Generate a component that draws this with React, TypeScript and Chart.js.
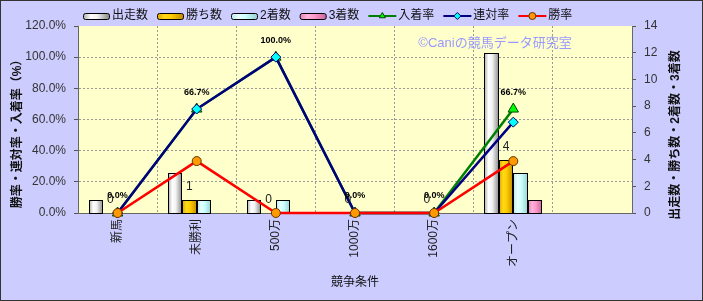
import React, { useEffect, useRef } from 'react';
import { Chart, registerables } from 'chart.js';
import { drawPoint } from 'chart.js/helpers';

Chart.register(...registerables);

// ---- data ----
const categories = ['新馬', '未勝利', '500万', '1000万', '1600万', 'オープン', ''];
const starts = [1, 3, 1, 0, 0, 12, null];
const wins = [0, 1, 0, 0, 0, 4, null];
const seconds = [0, 1, 1, 0, 0, 3, null];
const thirds = [0, 0, 0, 0, 0, 1, null];
const placeRate = [0, 66.7, 100, 0, 0, 66.7, null];
const rentaiRate = [0, 66.7, 100, 0, 0, 58.3, null];
const winRate = [0, 33.3, 0, 0, 0, 33.3, null];

const seriesLabels = ['出走数', '勝ち数', '2着数', '3着数', '入着率', '連対率', '勝率'];
const leftAxisTitle = '勝率・連対率・入着率（%）';
const rightAxisTitle = '出走数・勝ち数・2着数・3着数';
const xAxisTitle = '競争条件';
const watermark = '©Caniの競馬データ研究室';

const FONT = '"Liberation Sans", "Noto Sans CJK JP", sans-serif';

const gradStarts = [[0, '#a8a8a8'], [0.3, '#ffffff'], [0.55, '#f2f2f2'], [1, '#8a8a8a']];
const gradWins = [[0, '#dca400'], [0.3, '#ffd a1a'.replace(' ', '')], [0.55, '#ffcc00'], [1, '#c08c00']];
const gradSeconds = [[0, '#b4e6e6'], [0.3, '#e8ffff'], [0.55, '#ccffff'], [1, '#98d0d0']];
const gradThirds = [[0, '#e080b4'], [0.3, '#ffb4da'], [0.55, '#ff99cc'], [1, '#c86a9c']];

function makeGrad(ctx: CanvasRenderingContext2D, x0: number, x1: number, stops: any[]) {
  const g = ctx.createLinearGradient(x0, 0, x1, 0);
  stops.forEach(([o, c]) => g.addColorStop(o, c));
  return g;
}

const decor = {
  id: 'decor',
  beforeDraw(chart: any) {
    const { ctx, chartArea: a, width, height } = chart;
    ctx.save();
    ctx.fillStyle = '#ccccff';
    ctx.fillRect(0, 0, width, height);
    ctx.fillStyle = '#ffffcc';
    ctx.fillRect(a.left, a.top, a.right - a.left, a.bottom - a.top);
    ctx.restore();
  },
  beforeDatasetsDraw(chart: any) {
    const { ctx } = chart;
    ctx.save();
    ctx.font = `13px ${FONT}`;
    ctx.fillStyle = '#9999ff';
    ctx.textAlign = 'center';
    ctx.textBaseline = 'middle';
    ctx.fillText(watermark, 495, 43);
    ctx.restore();
  },
  afterDatasetDraw(chart: any, args: any) {
    const ds = chart.data.datasets[args.index];
    if (ds.type !== 'bar') return;
    const { ctx } = chart;
    ctx.save();
    args.meta.data.forEach((el: any, i: number) => {
      const v = ds.data[i];
      if (!v) return;
      const { x, y, base, width } = el.getProps(['x', 'y', 'base', 'width'], true);
      const l = Math.round(x - width / 2);
      const r = Math.round(x + width / 2);
      const t = Math.round(y);
      const b = Math.round(base);
      ctx.fillStyle = makeGrad(ctx, l, r, ds.gradStops);
      ctx.fillRect(l, t, r - l, b - t);
      ctx.strokeStyle = '#000';
      ctx.lineWidth = 1;
      ctx.strokeRect(l + 0.5, t + 0.5, r - l - 1, b - t);
    });
    ctx.restore();
  },
  afterDatasetsDraw(chart: any) {
    const { ctx } = chart;
    ctx.save();
    ctx.textAlign = 'center';
    ctx.textBaseline = 'middle';
    // 勝ち数 labels
    const winMeta = chart.getDatasetMeta(1);
    ctx.font = `12px ${FONT}`;
    ctx.fillStyle = '#222';
    winMeta.data.forEach((el: any, i: number) => {
      const v = wins[i];
      if (v === null || v === undefined) return;
      const { x, y } = el.getProps(['x', 'y'], true);
      ctx.fillText(String(v), x, y - 13);
    });
    // 入着率 labels
    const placeMeta = chart.getDatasetMeta(4);
    ctx.font = `bold 9px ${FONT}`;
    ctx.fillStyle = '#000';
    placeMeta.data.forEach((el: any, i: number) => {
      const v = placeRate[i];
      if (v === null || v === undefined) return;
      const { x, y } = el.getProps(['x', 'y'], true);
      ctx.fillText(v.toFixed(1) + '%', x, y - 17);
    });
    ctx.restore();
  },
  afterDraw(chart: any) {
    const { ctx, chartArea: a, width, height } = chart;
    ctx.save();
    ctx.fillStyle = '#111';
    ctx.textAlign = 'center';
    ctx.textBaseline = 'middle';
    // axis titles
    ctx.font = `bold 12px ${FONT}`;
    ctx.save();
    ctx.translate(18, 131);
    ctx.rotate(-Math.PI / 2);
    ctx.fillText(leftAxisTitle, 0, 0);
    ctx.restore();
    ctx.save();
    ctx.translate(676, 135);
    ctx.rotate(-Math.PI / 2);
    ctx.fillText(rightAxisTitle, 0, 0);
    ctx.restore();
    ctx.font = `12px ${FONT}`;
    ctx.fillText(xAxisTitle, (a.left + a.right) / 2, 283);

    // legend
    let x = 83;
    const yc = 16;
    ctx.textAlign = 'left';
    chart.data.datasets.forEach((ds: any) => {
      if (ds.type === 'bar') {
        const w = 26, h = 6;
        ctx.fillStyle = makeGrad(ctx, x, x + w, ds.gradStops);
        ctx.beginPath();
        ctx.roundRect(x + 0.5, yc - h / 2 + 0.5, w, h, 2);
        ctx.fill();
        ctx.strokeStyle = '#000';
        ctx.lineWidth = 1;
        ctx.stroke();
        x += w + 3;
      } else {
        const w = 28;
        ctx.strokeStyle = ds.borderColor;
        ctx.lineWidth = 2;
        ctx.beginPath();
        ctx.moveTo(x, yc);
        ctx.lineTo(x + w, yc);
        ctx.stroke();
        ctx.fillStyle = ds.pointBackgroundColor;
        ctx.strokeStyle = ds.pointBorderColor;
        ctx.lineWidth = 1;
        drawPoint(ctx, { pointStyle: ds.pointStyle, radius: 3.5, rotation: 0, borderWidth: 1 } as any, x + w / 2, yc);
        x += w + 2;
      }
      ctx.fillStyle = '#111';
      ctx.font = `12px ${FONT}`;
      ctx.fillText(ds.label, x, yc);
      x += ctx.measureText(ds.label).width + 9;
    });

    // outer border
    ctx.strokeStyle = '#333';
    ctx.lineWidth = 1;
    ctx.strokeRect(0.5, 0.5, width - 1, height - 1);
    ctx.restore();
  },
};

export default function App() {
  const ref = useRef<HTMLCanvasElement | null>(null);
  useEffect(() => {
    if (!ref.current) return;
    const tickFont = { family: FONT, size: 12 };
    const chart = new Chart(ref.current, {
      type: 'bar',
      data: {
        labels: categories,
        datasets: [
          { type: 'bar', label: seriesLabels[0], data: starts, yAxisID: 'y1', backgroundColor: 'transparent', borderWidth: 0, order: 4, gradStops: gradStarts } as any,
          { type: 'bar', label: seriesLabels[1], data: wins, yAxisID: 'y1', backgroundColor: 'transparent', borderWidth: 0, order: 4, gradStops: gradWins } as any,
          { type: 'bar', label: seriesLabels[2], data: seconds, yAxisID: 'y1', backgroundColor: 'transparent', borderWidth: 0, order: 4, gradStops: gradSeconds } as any,
          { type: 'bar', label: seriesLabels[3], data: thirds, yAxisID: 'y1', backgroundColor: 'transparent', borderWidth: 0, order: 4, gradStops: gradThirds } as any,
          {
            type: 'line', label: seriesLabels[4], data: placeRate, yAxisID: 'y',
            borderColor: '#008000', borderWidth: 2.5, pointStyle: 'triangle', pointRadius: 6,
            pointBackgroundColor: '#00ff00', pointBorderColor: '#004000', pointBorderWidth: 1,
            order: 3, tension: 0, clip: false,
          } as any,
          {
            type: 'line', label: seriesLabels[5], data: rentaiRate, yAxisID: 'y',
            borderColor: '#000080', borderWidth: 2.5, pointStyle: 'rectRot', pointRadius: 5,
            pointBackgroundColor: '#00ffff', pointBorderColor: '#000060', pointBorderWidth: 1,
            order: 2, tension: 0, clip: false,
          } as any,
          {
            type: 'line', label: seriesLabels[6], data: winRate, yAxisID: 'y',
            borderColor: '#ff0000', borderWidth: 2.5, pointStyle: 'circle', pointRadius: 4.5,
            pointBackgroundColor: '#ff9900', pointBorderColor: '#663300', pointBorderWidth: 1,
            order: 1, tension: 0, clip: false,
          } as any,
        ],
      },
      options: {
        responsive: false,
        animation: false,
        devicePixelRatio: 1,
        events: [],
        layout: { padding: { top: 26, left: 0, right: 0, bottom: 0 } },
        datasets: { bar: { categoryPercentage: 0.734, barPercentage: 1 } },
        plugins: { legend: { display: false }, tooltip: { enabled: false } },
        scales: {
          x: {
            type: 'category',
            offset: true,
            grid: { display: true, offset: true, color: '#999', drawTicks: false, lineWidth: 1 },
            border: { color: '#666', dash: [2, 2] },
            ticks: { font: tickFont, color: '#222', minRotation: 90, maxRotation: 90, padding: 6, autoSkip: false },
            afterFit: (s: any) => { s.height = 88; },
          },
          y: {
            position: 'left',
            min: 0,
            max: 120,
            ticks: { stepSize: 20, font: tickFont, color: '#333', padding: 8, callback: (v: any) => Number(v).toFixed(1) + '%' },
            grid: {
              color: (c: any) => (c.tick && (c.tick.value === 0 || c.tick.value === 120) ? 'transparent' : '#999'),
              tickColor: '#555', tickLength: 4, tickBorderDash: [],
            },
            border: { color: '#666', dash: [2, 2] },
            afterFit: (s: any) => { s.width = 78; },
          },
          y1: {
            position: 'right',
            min: 0,
            max: 14,
            ticks: { stepSize: 2, font: tickFont, color: '#333', padding: 8 },
            grid: { drawOnChartArea: false, tickColor: '#555', tickLength: 4 },
            border: { color: '#666' },
            afterFit: (s: any) => { s.width = 71; },
          },
        },
      } as any,
      plugins: [decor],
    });
    return () => chart.destroy();
  }, []);
  return (
    <div style={{ position: 'absolute', left: 0, top: 0, width: 703, height: 301 }}>
      <canvas ref={ref} width={703} height={301} style={{ width: 703, height: 301, display: 'block' }} />
    </div>
  );
}
